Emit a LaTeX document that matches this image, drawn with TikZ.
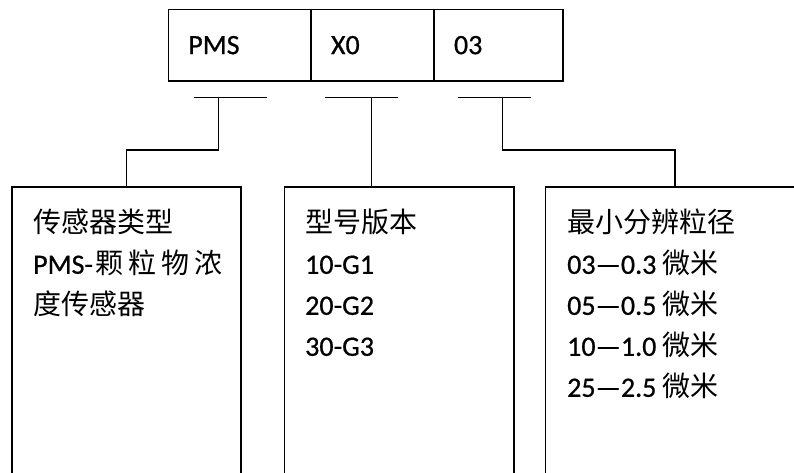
\documentclass[tikz,border=0pt]{standalone}
\usepackage{fontspec}
\setmainfont{Carlito}[FakeBold=0.7]
\newfontfamily\cjk{Noto Sans CJK SC}
\usetikzlibrary{positioning}

\tikzset{
  codebox/.style={draw, line width=1.4pt, outer sep=0pt, inner xsep=20pt,
    minimum height=71.7pt, align=left, text width=#1},
  listbox/.style={draw, line width=1.4pt, outer sep=0pt, anchor=north west,
    minimum height=300pt, minimum width=#1},
  listtext/.style={anchor=north west, align=left, inner sep=0pt},
  bar/.style={line width=1.4pt},
  link/.style={line width=1.4pt}
}

\begin{document}
\begin{tikzpicture}[x=1pt,y=-1pt,font=\fontsize{28}{41}\selectfont]
        \clip (0,0) rectangle (794,473);

        % Code: type / version / size
        \node[codebox=102.7pt, anchor=north west] (codepms) at (168.3,9.3) {PMS};
        \node[codebox=83pt, right=0pt of codepms] (codever) {X0};
        \node[codebox=89pt, right=0pt of codever] (codesize) {03};

        % Brackets under the code
        \coordinate (bar1l) at (194,97.3);   \coordinate (bar1r) at (266.7,97.3);
        \coordinate (bar2l) at (325,97.3);   \coordinate (bar2r) at (397.7,97.3);
        \coordinate (bar3l) at (458.3,97.3); \coordinate (bar3r) at (531,97.3);
        \coordinate (stem1) at (218.3,97.3);
        \coordinate (stem2) at (371.7,97.3);
        \coordinate (stem3) at (502.7,97.3);
        \draw[bar] (bar1l) -- (bar1r);
        \draw[bar] (bar2l) -- (bar2r);
        \draw[bar] (bar3l) -- (bar3r);

        % Explanation boxes
        \node[listbox=229pt] (typebox) at (12,187) {};
        \node[listbox=229.7pt] (verbox) at (284.3,187) {};
        \node[listbox=258.6pt] (sizebox) at (545.7,187) {};

        \node[listtext] (typetext) at (33,209)
          {{\cjk 传感器类型}\\PMS-\kern3pt{\cjk 颗\kern5pt 粒\kern5pt 物\kern5pt 浓}\\{\cjk 度传感器}};
        \node[listtext] (vertext) at (305,209)
          {{\cjk 型号版本}\\10-G1\\20-G2\\30-G3};
        \node[listtext] (sizetext) at (567,209)
          {{\cjk 最小分辨粒径}\\03—0.3 {\cjk 微米}\\05—0.5 {\cjk 微米}\\10—1.0 {\cjk 微米}\\25—2.5 {\cjk 微米}};

        % Connectors
        \draw[link] (stem1) -- ++(0,52.7) -| (typebox.north);
        \draw[link] (stem2) -- (stem2 |- verbox.north);
        \draw[link] (stem3) -- ++(0,52.7) -| (sizebox.north);
    \end{tikzpicture}
\end{document}
